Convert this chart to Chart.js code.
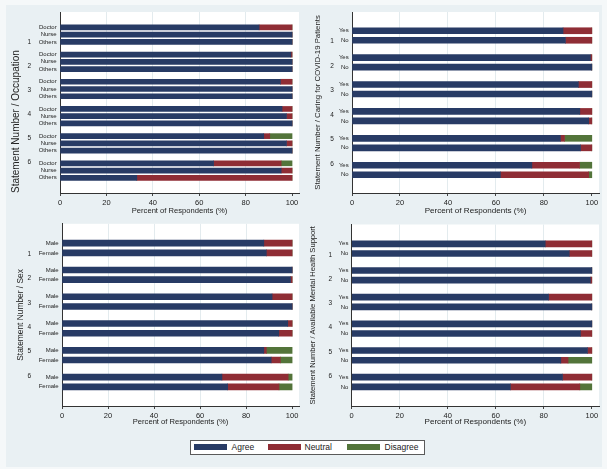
<!DOCTYPE html>
<html><head><meta charset="utf-8">
<script src="https://cdn.jsdelivr.net/npm/chart.js@4.4.1/dist/chart.umd.min.js"></script>
<style>
html,body{margin:0;padding:0;background:#f5f8f9;width:607px;height:469px;overflow:hidden;font-family:"Liberation Sans",Arial,sans-serif;}
#bg{position:absolute;left:6px;top:5px;width:596px;height:462px;background:#e9f0f3;}
canvas{position:absolute;}
#legend{position:absolute;left:190px;top:440px;width:233px;height:13px;background:#fff;border:1px solid #5a5a5a;}
.sw{position:absolute;top:3px;height:6px;width:33px;}
.lt{position:absolute;top:0;font-size:8.5px;line-height:13px;color:#222;white-space:nowrap;}
</style></head>
<body>
<div id="bg"></div>
<canvas id="c1" width="303" height="220" style="left:0;top:0"></canvas>
<canvas id="c2" width="304" height="220" style="left:303px;top:0"></canvas>
<canvas id="c3" width="303" height="215" style="left:0;top:215px"></canvas>
<canvas id="c4" width="304" height="215" style="left:303px;top:215px"></canvas>
<div id="legend"></div>
<script>
// ---------------- DATA ----------------
const statements = ["1","2","3","4","5","6"];
const responseLabels = ["Agree","Neutral","Disagree"];
const xTicks = [0,20,40,60,80,100];

const occupationLabels = ["Doctor","Nurse","Others"];
const occAgree    = [[85.8,100,100],[99.5,100,100],[95.0,100,100],[95.7,97.6,100],[87.8,97.6,100],[66.2,95.3,33.1]];
const occNeutral  = [[14.2,0,0],[0.5,0,0],[5.0,0,0],[4.3,2.4,0],[2.6,2.4,0],[29.1,4.7,66.9]];
const occDisagree = [[0,0,0],[0,0,0],[0,0,0],[0,0,0],[9.6,0,0],[4.7,0,0]];

const caringLabels = ["Yes","No"];
const carAgree    = [[88.0,89.0],[99.4,100],[94.4,100],[95.0,98.7],[86.9,95.3],[75.0,61.9]];
const carNeutral  = [[12.0,11.0],[0.6,0],[5.6,0],[5.0,1.3],[1.7,4.7],[19.9,36.8]];
const carDisagree = [[0,0],[0,0],[0,0],[0,0],[11.4,0],[5.1,1.3]];

const sexLabels = ["Male","Female"];
const sexAgree    = [[87.7,88.8],[100,99.3],[91.3,100],[98.1,94.2],[87.7,90.9],[69.5,72.0]];
const sexNeutral  = [[12.3,11.2],[0,0.7],[8.7,0],[1.9,5.8],[1.1,4.0],[28.8,22.3]];
const sexDisagree = [[0,0],[0,0],[0,0],[0,0],[11.2,5.1],[1.7,5.7]];

const supportLabels = ["Yes","No"];
const supAgree    = [[80.6,90.6],[100,99.4],[82.0,100],[100,95.3],[98.2,87.1],[87.8,66.1]];
const supNeutral  = [[19.4,9.4],[0,0.6],[18.0,0],[0,4.7],[1.8,3.0],[12.2,28.9]];
const supDisagree = [[0,0],[0,0],[0,0],[0,0],[0,9.9],[0,5.0]];

// ---------------- STYLE ----------------
const FAMILY = '"Liberation Sans", Arial, sans-serif';
const COLORS = ["#283b65","#8f2d35","#53743a"];
const TEXT = "#222";
const GRID = "#e3ebee";

const legend = document.getElementById('legend');
const legendPos = [{sw:2.5,tx:40.5},{sw:76.5,tx:113.5},{sw:155.5,tx:193.5}];
responseLabels.forEach((lab,i)=>{
  const s=document.createElement('div'); s.className='sw'; s.style.left=legendPos[i].sw+'px'; s.style.background=COLORS[i]; legend.appendChild(s);
  const t=document.createElement('div'); t.className='lt'; t.style.left=legendPos[i].tx+'px'; t.textContent=lab; legend.appendChild(t);
});

const plotBg = { id:'plotBg', beforeDraw(chart){ const {ctx, chartArea:a}=chart; ctx.save(); ctx.fillStyle='#ffffff'; ctx.fillRect(a.left,a.top,a.right-a.left,a.bottom-a.top); ctx.restore(); } };

const panels = [
 {id:'c1', w:303, h:220, area:{left:60, top:12, right:299, bottom:193}, subs:occupationLabels,
  vals:[occAgree,occNeutral,occDisagree], title:'Statement Number / Occupation', titleSize:10, titleX:16, titleAlign:'start',
  period:3.75, mTop:1.43, mBot:1.40, bar:5, innerW:24, numRight:31.1, xTitleSize:7.6, xTitleY:211},
 {id:'c2', w:304, h:220, area:{left:49, top:12, right:296, bottom:193}, subs:caringLabels,
  vals:[carAgree,carNeutral,carDisagree], title:'Statement Number / Caring for COVID-19 Patients', titleSize:7.8, titleX:15, titleAlign:'center',
  period:2.83, mTop:1.18, mBot:1.13, bar:6, innerW:14, numRight:30.8, xTitleSize:8.1, xTitleY:211},
 {id:'c3', w:303, h:215, area:{left:62, top:8, right:299, bottom:191}, subs:sexLabels,
  vals:[sexAgree,sexNeutral,sexDisagree], title:'Statement Number / Sex', titleSize:8.4, titleX:20.7, titleAlign:'center',
  period:2.75, mTop:1.21, mBot:1.19, bar:6, innerW:26, numRight:31.1, xTitleSize:7.6, xTitleY:206.7},
 {id:'c4', w:304, h:215, area:{left:48.7, top:8, right:296, bottom:191}, subs:supportLabels,
  vals:[supAgree,supNeutral,supDisagree], title:'Statement Number / Available Mental Health Support', titleSize:7.6, titleX:10, titleAlign:'center',
  period:2.75, mTop:1.21, mBot:1.19, bar:6, innerW:14, numRight:29.1, xTitleSize:8.1, xTitleY:206.7}
];

panels.forEach(p=>{
  const n = p.subs.length;
  const positions=[], subFlat=[], centers=[];
  statements.forEach((s,g)=>{
    for(let j=0;j<n;j++){ positions.push(-(g*p.period+j)); subFlat.push(p.subs[j]); }
    centers.push(-(g*p.period+(n-1)/2));
  });
  const yMax = p.mTop;
  const yMin = -((statements.length-1)*p.period + (n-1) + p.mBot);
  const datasets = responseLabels.map((lab,d)=>({
    label: lab,
    data: positions.map((pos,k)=>({x: p.vals[d][Math.floor(k/n)][k%n], y: pos})),
    backgroundColor: COLORS[d], borderWidth:0, barThickness:p.bar,
    xAxisID:'x', yAxisID:'y'
  }));
  const outerW = p.area.left - p.innerW;
  new Chart(document.getElementById(p.id), {
    type:'bar',
    data:{datasets},
    plugins:[plotBg],
    options:{
      responsive:false, animation:false, indexAxis:'y',
      layout:{padding:{left:0, top:p.area.top, right:p.w-p.area.right, bottom:0}},
      plugins:{legend:{display:false}, tooltip:{enabled:false}},
      scales:{
        x:{type:'linear', min:0, max:103, stacked:true, position:'bottom',
          afterBuildTicks:s=>{ s.ticks = xTicks.map(v=>({value:v})); },
          ticks:{font:{size:7.5,family:FAMILY}, color:TEXT, padding:2, maxRotation:0, autoSkip:false},
          grid:{color:c=>(c.tick && c.tick.value>0 && c.tick.value<100)?GRID:'rgba(0,0,0,0)', tickColor:'#444', tickLength:3, drawTicks:true, lineWidth:1},
          border:{display:true, color:'#333', width:1},
          title:{display:true, text:'Percent of Respondents (%)', color:TEXT, font:{size:p.xTitleSize,family:FAMILY,lineHeight:1.2},
                 padding:{top:0,bottom:(p.h-p.xTitleY)-p.xTitleSize*0.6}},
          afterFit:s=>{ s.height = p.h - p.area.bottom; }
        },
        y:{type:'linear', position:'left', min:yMin, max:yMax, stacked:true, weight:0,
          afterBuildTicks:s=>{ s.ticks = positions.map(v=>({value:v})); },
          ticks:{callback:(v,i)=>subFlat[i], font:{size:6,family:FAMILY}, color:TEXT, padding:3.3, crossAlign:'near', autoSkip:false},
          grid:{display:false, drawTicks:false, tickLength:0},
          border:{display:true, color:'#333', width:1},
          afterFit:s=>{ s.width = p.innerW; }
        },
        yg:{type:'linear', position:'left', min:yMin, max:yMax, weight:1,
          afterBuildTicks:s=>{ s.ticks = centers.map(v=>({value:v})); },
          ticks:{callback:(v,i)=>statements[i], font:{size:6.5,family:FAMILY}, color:TEXT, padding:outerW-p.numRight, crossAlign:'near', autoSkip:false},
          grid:{display:false, drawTicks:false, tickLength:0},
          border:{display:false},
          title:{display:true, text:p.title, align:p.titleAlign, color:TEXT, font:{size:p.titleSize,family:FAMILY,lineHeight:1.2},
                 padding:{top:p.titleX-p.titleSize*0.6, bottom:0}},
          afterFit:s=>{ s.width = outerW; }
        }
      }
    }
  });
});
</script>
</body></html>
